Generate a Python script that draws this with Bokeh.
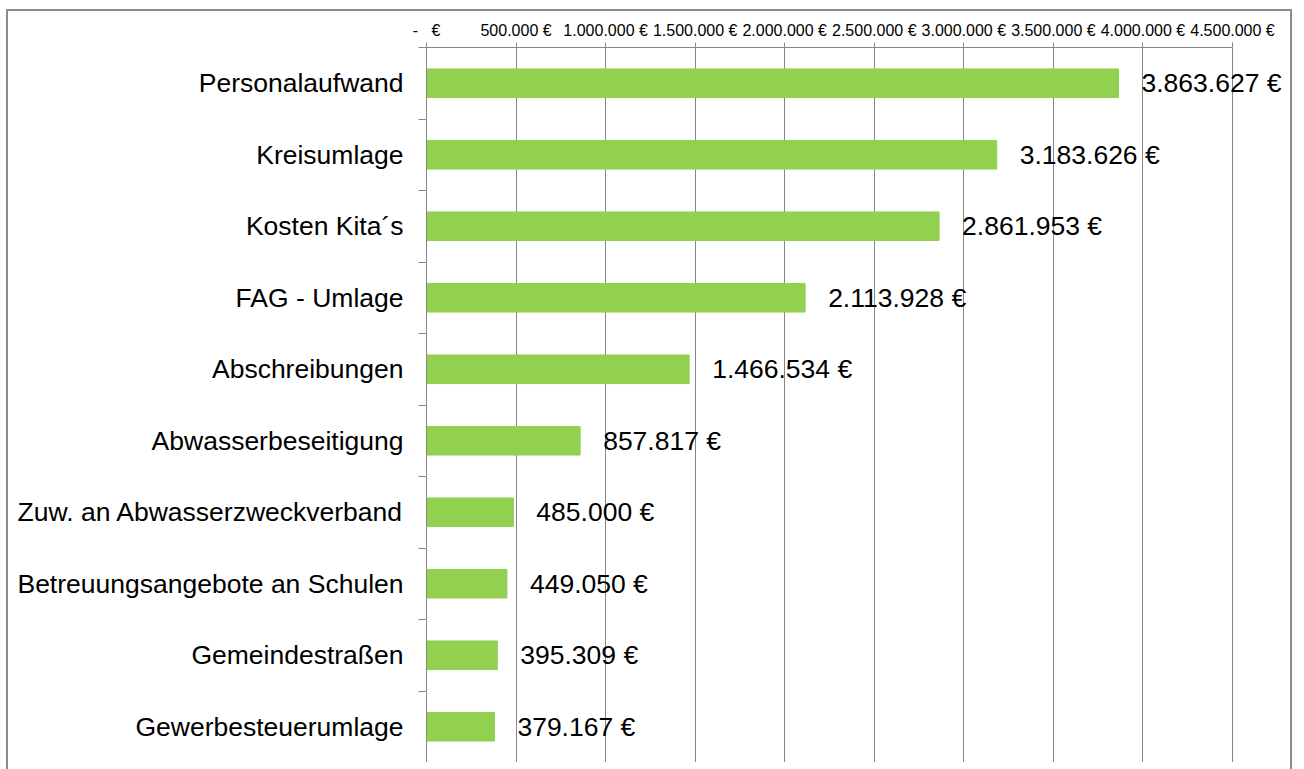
from bokeh.plotting import figure
from bokeh.models import Range1d, FixedTicker, ColumnDataSource, LabelSet, InlineStyleSheet
from bokeh.core.properties import value
from bokeh.embed import file_html
from bokeh.resources import INLINE

categories = ["Personalaufwand", "Kreisumlage", "Kosten Kita´s", "FAG - Umlage",
              "Abschreibungen", "Abwasserbeseitigung", "Zuw. an Abwasserzweckverband",
              "Betreuungsangebote an Schulen", "Gemeindestraßen", "Gewerbesteuerumlage"]
values = [3863627, 3183626, 2861953, 2113928, 1466534, 857817, 485000, 449050, 395309, 379167]
x_ticks = [0, 500000, 1000000, 1500000, 2000000, 2500000, 3000000, 3500000, 4000000, 4500000]


def fmt_eur(v):
    if v == 0:
        return "-\u00a0\u00a0\u00a0€"
    return f"{v:,}".replace(",", ".") + " €"


W, H = 1296, 762
LEFT, RIGHT_B = 426, 4
frame_w = W - LEFT - RIGHT_B
x_end = 4500000 * frame_w / 806.0

n = len(categories)
centers = [i + 0.5 for i in range(n)]
labels = [fmt_eur(v) for v in values]
src = ColumnDataSource(dict(y=centers, v=values, lab=labels))

p = figure(width=W, height=H, output_backend="svg", toolbar_location=None,
           x_range=Range1d(0, x_end), y_range=Range1d(n, 0),
           x_axis_location="above", min_border_left=LEFT, min_border_right=RIGHT_B,
           min_border_top=47, min_border_bottom=0)
p.outline_line_color = None
p.background_fill_color = "white"
p.border_fill_color = "white"

p.hbar(y="y", left=0, right="v", height=0.4, source=src, color="#92D050")

ls = LabelSet(x="v", y="y", text="lab", source=src, x_offset=23,
              text_baseline="middle", text_align="left",
              text_font=value("Liberation Sans"), text_font_size=value("26.5px"),
              text_color="black")
p.add_layout(ls)

# x axis (top)
xa = p.xaxis[0]
xa.ticker = FixedTicker(ticks=x_ticks)
xa.major_label_overrides = {t: fmt_eur(t) for t in x_ticks}
xa.bounds = (0, 4500000)
xa.axis_line_color = "#868686"
xa.major_tick_line_color = "#868686"
xa.major_tick_out = 5
xa.major_tick_in = 0
xa.minor_tick_line_color = None
xa.major_label_standoff = 4
xa.major_label_text_font = "Liberation Sans"
xa.major_label_text_font_size = "16px"
xa.major_label_text_color = "black"

# y axis
ya = p.yaxis[0]
ya.ticker = FixedTicker(ticks=centers, minor_ticks=list(range(n + 1)))
ya.major_label_overrides = {c: cat for c, cat in zip(centers, categories)}
ya.axis_line_color = "#868686"
ya.major_tick_line_color = None
ya.major_tick_out = 0
ya.major_tick_in = 0
ya.minor_tick_line_color = "#868686"
ya.minor_tick_out = 8
ya.minor_tick_in = 0
ya.major_label_standoff = 15
ya.major_label_text_font = "Liberation Sans"
ya.major_label_text_font_size = "26.5px"
ya.major_label_text_color = "black"

p.xgrid.ticker = FixedTicker(ticks=x_ticks[1:])
p.xgrid.grid_line_color = "#868686"
p.ygrid.grid_line_color = None

p.stylesheets = [InlineStyleSheet(css=(
    ":host { position: relative; }"
    ":host::after { content: ''; position: absolute; left: 6px; top: 9px;"
    " width: 1286px; height: 800px; border: 2px solid #8c8c8c;"
    " box-sizing: border-box; pointer-events: none; }"
))]

open("out.html", "w").write(file_html(p, INLINE))
